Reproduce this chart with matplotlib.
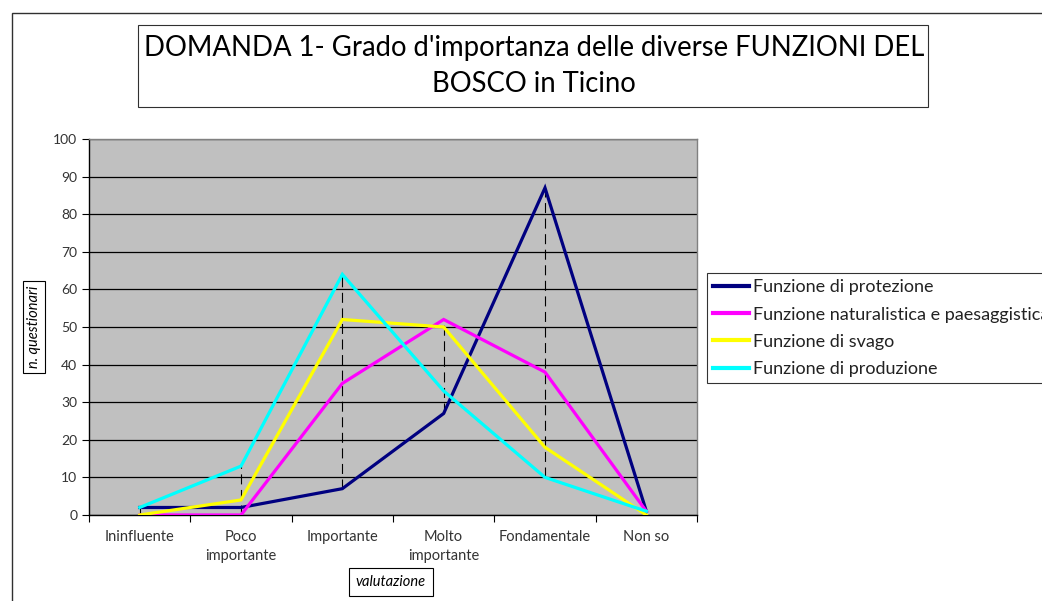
import matplotlib
matplotlib.use("Agg")
import matplotlib.pyplot as plt
from matplotlib.patches import Rectangle
import numpy as np

plt.rcParams['font.family'] = ['Lato', 'DejaVu Sans']

# dati
categorie = ['Ininfluente', 'Poco\nimportante', 'Importante', 'Molto\nimportante', 'Fondamentale', 'Non so']
protezione = [2, 2, 7, 27, 87, 1]
naturalistica = [0, 0, 35, 52, 38, 1]
svago = [0, 4, 52, 50, 18, 0]
produzione = [2, 13, 64, 33, 10, 1]

serie = [
    ('Funzione di protezione', protezione, '#000080'),
    ('Funzione naturalistica e paesaggistica', naturalistica, '#FF00FF'),
    ('Funzione di svago', svago, '#FFFF00'),
    ('Funzione di produzione', produzione, '#00FFFF'),
]

fig = plt.figure(figsize=(10.42, 6.01), dpi=100)
ax = fig.add_axes([89 / 1042, 1 - 515 / 601, 608 / 1042, 376 / 601])
ax.set_facecolor('#C0C0C0')

x = np.arange(len(categorie))

# linee alto-basso tratteggiate
valori = np.array([protezione, naturalistica, svago, produzione])
ax.vlines(x, valori.min(axis=0), valori.max(axis=0), colors='black',
          linestyles=(0, (9, 5)), linewidth=0.8, zorder=2)

for nome, y, col in serie:
    ax.plot(x, y, color=col, linewidth=2.3, label=nome, zorder=3,
            solid_joinstyle='miter')

ax.set_xlim(-0.5, len(categorie) - 0.5)
ax.set_ylim(0, 100)
ax.set_yticks(range(0, 101, 10))
ax.yaxis.grid(True, color='black', linewidth=0.9)
ax.set_axisbelow(True)

# tacche sui bordi delle categorie, etichette al centro
ax.set_xticks(np.arange(-0.5, len(categorie), 1))
ax.set_xticklabels([])
ax.set_xticks(x, minor=True)
ax.set_xticklabels(categorie, minor=True, fontsize=10.5, color='#333333',
                   linespacing=1.45)
ax.tick_params(axis='x', which='minor', length=0, pad=11)
ax.tick_params(axis='x', which='major', length=5, direction='out', color='black')
ax.tick_params(axis='y', length=5, direction='out', labelsize=10, labelcolor='#333333')

for s in ['top', 'right']:
    ax.spines[s].set_color('#808080')
    ax.spines[s].set_linewidth(1)
for s in ['left', 'bottom']:
    ax.spines[s].set_color('black')
    ax.spines[s].set_linewidth(1)

# legenda (tagliata sul bordo destro come nell'originale)
leg = ax.legend(loc='upper left', bbox_to_anchor=(707 / 1042, 1 - 273 / 601),
                bbox_transform=fig.transFigure, fontsize=13, frameon=True,
                fancybox=False, edgecolor='black', borderpad=0.35,
                labelspacing=0.62, handlelength=2.0, handletextpad=0.2,
                borderaxespad=0)
leg.get_frame().set_linewidth(0.8)
for line in leg.get_lines():
    line.set_linewidth(3)
for t in leg.get_texts():
    t.set_color('#222222')

# cornice esterna del grafico
fig.add_artist(Rectangle((12 / 1042, -0.1), 1.2, 1 - 13 / 601 + 0.1,
                         transform=fig.transFigure, fill=False,
                         edgecolor='#303030', linewidth=1))

# titolo in riquadro
fig.add_artist(Rectangle((138 / 1042, 1 - 107 / 601), 790 / 1042, 82 / 601,
                         transform=fig.transFigure, fill=False,
                         edgecolor='#303030', linewidth=0.8))
fig.text(534 / 1042, 1 - 66 / 601,
         "DOMANDA 1- Grado d'importanza delle diverse FUNZIONI DEL\nBOSCO in Ticino",
         ha='center', va='center', fontsize=19.8, linespacing=1.45, color='black')

# etichette assi in riquadro
fig.text(34 / 1042, 1 - 327 / 601, 'n. questionari', rotation=90, style='italic',
         ha='center', va='center', fontsize=10.5,
         bbox=dict(boxstyle='square,pad=0.3', fc='white', ec='black', lw=0.8))
fig.text(391 / 1042, 1 - 582 / 601, 'valutazione', style='italic',
         ha='center', va='center', fontsize=10.5,
         bbox=dict(boxstyle='square,pad=0.45', fc='white', ec='black', lw=0.8))

fig.savefig('out.png', dpi=100)
